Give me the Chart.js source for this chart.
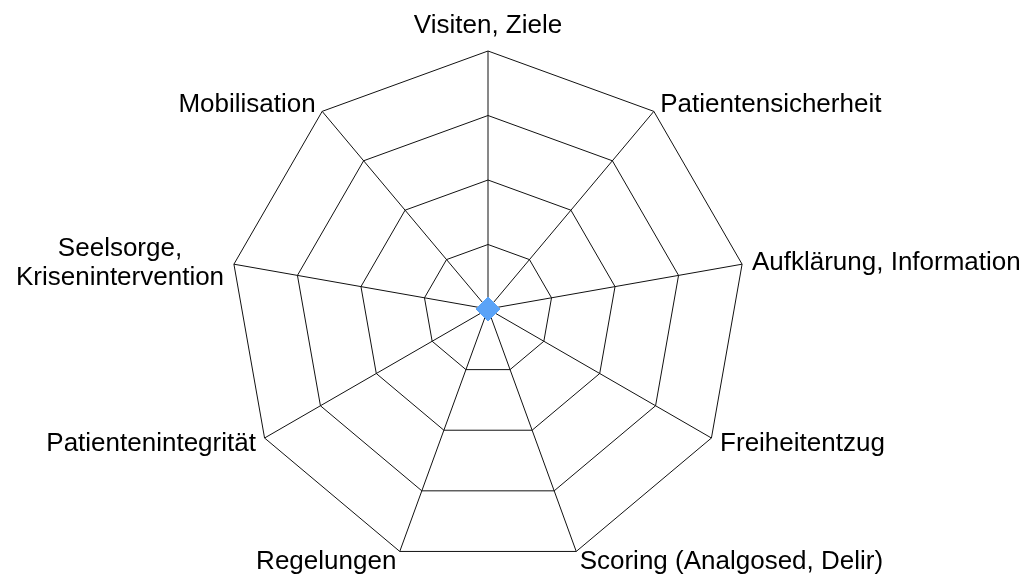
<!DOCTYPE html>
<html>
<head>
<meta charset="utf-8">
<style>
  html, body { margin: 0; padding: 0; background: #ffffff; }
  #wrap { width: 1036px; height: 578px; }
</style>
<script src="https://cdn.jsdelivr.net/npm/chart.js@4/dist/chart.umd.min.js"></script>
</head>
<body>
<div id="wrap"><canvas id="c" width="1036" height="578"></canvas></div>
<script>
const categories = [
  'Visiten, Ziele',
  'Patientensicherheit',
  'Aufklärung, Information',
  'Freiheitentzug',
  'Scoring (Analgosed, Delir)',
  'Regelungen',
  'Patientenintegrität',
  ['Seelsorge,', 'Krisenintervention'],
  'Mobilisation'
];
const seriesValues = [0, 0, 0, 0, 0, 0, 0, 0, 0];
const scaleMin = 0;
const scaleMax = 4;
const scaleStep = 1;

const FONT = '26px "Liberation Sans", Arial, sans-serif';

const labelPlugin = {
  id: 'excelLabels',
  afterDraw(chart) {
    const scale = chart.scales.r;
    const ctx = chart.ctx;
    const n = chart.data.labels.length;
    ctx.save();
    ctx.font = FONT;
    ctx.fillStyle = '#000000';
    ctx.textBaseline = 'alphabetic';
    const lh = 29;
    for (let i = 0; i < n; i++) {
      const lab = chart.data.labels[i];
      const lines = Array.isArray(lab) ? lab : [lab];
      const deg = Math.round(i * 360 / n);
      const p = scale.getPointPosition(i, scale.drawingArea + 10);
      if (deg === 0) {
        ctx.textAlign = 'center';
        lines.forEach((t, k) => {
          ctx.fillText(t, p.x, p.y - 8 - (lines.length - 1 - k) * lh);
        });
        continue;
      }
      const w = Math.max(...lines.map(t => ctx.measureText(t).width));
      const cx = deg < 180 ? p.x + w / 2 : p.x - w / 2;
      ctx.textAlign = 'center';
      const first = p.y + 8 - (lines.length - 1) * lh / 2;
      lines.forEach((t, k) => {
        ctx.fillText(t, cx, first + k * lh);
      });
    }
    ctx.restore();
  }
};

new Chart(document.getElementById('c'), {
  type: 'radar',
  data: {
    labels: categories,
    datasets: [{
      label: 'Serie 1',
      data: seriesValues,
      borderColor: '#5ba3f7',
      backgroundColor: '#5ba3f7',
      borderWidth: 2,
      fill: false,
      pointStyle: 'rectRot',
      pointRadius: 12,
      pointHoverRadius: 12,
      pointBackgroundColor: '#5ba3f7',
      pointBorderColor: '#5ba3f7',
      pointBorderWidth: 0.5
    }]
  },
  options: {
    responsive: false,
    animation: false,
    devicePixelRatio: 1,
    layout: { padding: { left: 200, right: 260, top: 51, bottom: 11 } },
    plugins: {
      legend: { display: false },
      tooltip: { enabled: false },
      title: { display: false }
    },
    scales: {
      r: {
        min: scaleMin,
        max: scaleMax,
        ticks: { display: false, stepSize: scaleStep },
        grid: { color: '#111111', lineWidth: 1 },
        angleLines: { color: '#111111', lineWidth: 1 },
        pointLabels: { display: false }
      }
    }
  },
  plugins: [labelPlugin]
});
</script>
</body>
</html>
